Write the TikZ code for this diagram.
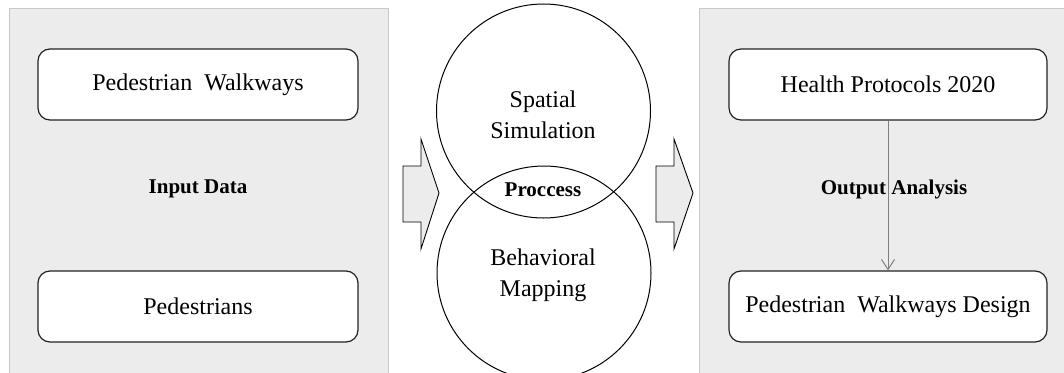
\documentclass[tikz,border=0pt]{standalone}
\usepackage{fontspec}
\setmainfont{Liberation Serif}
\usetikzlibrary{arrows.meta}
\definecolor{panelfill}{HTML}{ECECEC}
\definecolor{panelline}{HTML}{C8C8C8}
\definecolor{boxline}{HTML}{222222}
\definecolor{arrowgray}{HTML}{7F7F7F}
\tikzset{
  panel/.style={fill=panelfill, draw=panelline, line width=0.8pt},
  inbox/.style={draw=boxline, fill=white, rounded corners=12pt, line width=1.2pt,
    minimum width=320pt, minimum height=71pt, inner sep=0pt,
    font=\fontsize{24}{28}\selectfont},
  bold label/.style={font=\fontsize{21}{24}\selectfont\bfseries, inner sep=0pt},
  circ/.style={draw=black, line width=1pt, circle, minimum size=214pt, inner sep=0pt},
  circtext/.style={font=\fontsize{24}{31}\selectfont, align=center, inner sep=0pt},
  bigarrow/.style={draw=black, fill=panelfill, line width=0.9pt, line join=miter},
  flow/.style={draw=arrowgray, line width=1pt, -{Straight Barb[length=10pt,width=13pt,line width=1pt]}}
}
\begin{document}
\begin{tikzpicture}[x=1pt,y=-1pt]
  \useasboundingbox (0,0) rectangle (1064,372);
  % panels
  \path[panel] (9,8) rectangle (388,380);
  \path[panel] (699,8) rectangle (1070,380);
  % left boxes
  \node[inbox] (pw) at (198,84.5) {Pedestrian\ \ Walkways};
  \node[inbox] (ped) at (198,306.5) {Pedestrians};
  \node[bold label] (input) at (198,189) {Input Data};
  % circles
  \node[circ] (c1) at (543.5,111) {};
  \node[circ] (c2) at (544,273) {};
  \node[circtext] (t1) at (543,115) {Spatial\\Simulation};
  \node[circtext] (t2) at (543,275) {Behavioral\\Mapping};
  \node[bold label] (proc) at (543,190) {Proccess};
  % big arrows
  \draw[bigarrow] (403,166) -- (421,166) -- (421,139) -- (439,193) -- (421,249) -- (421,222) -- (403,222) -- cycle;
  \draw[bigarrow] (656,166) -- (674,166) -- (674,139) -- (693,193) -- (674,249) -- (674,222) -- (656,222) -- cycle;
  % right boxes
  \node[inbox, minimum width=318pt] (hp) at (888,84.5) {Health Protocols 2020};
  \node[inbox, minimum width=318pt] (pwd) at (888,306.5) {Pedestrian\ \ Walkways Design};
  \draw[flow] (hp.south) -- (pwd.north);
  \node[bold label] (out) at (894,189) {Output Analysis};
\end{tikzpicture}
\end{document}
